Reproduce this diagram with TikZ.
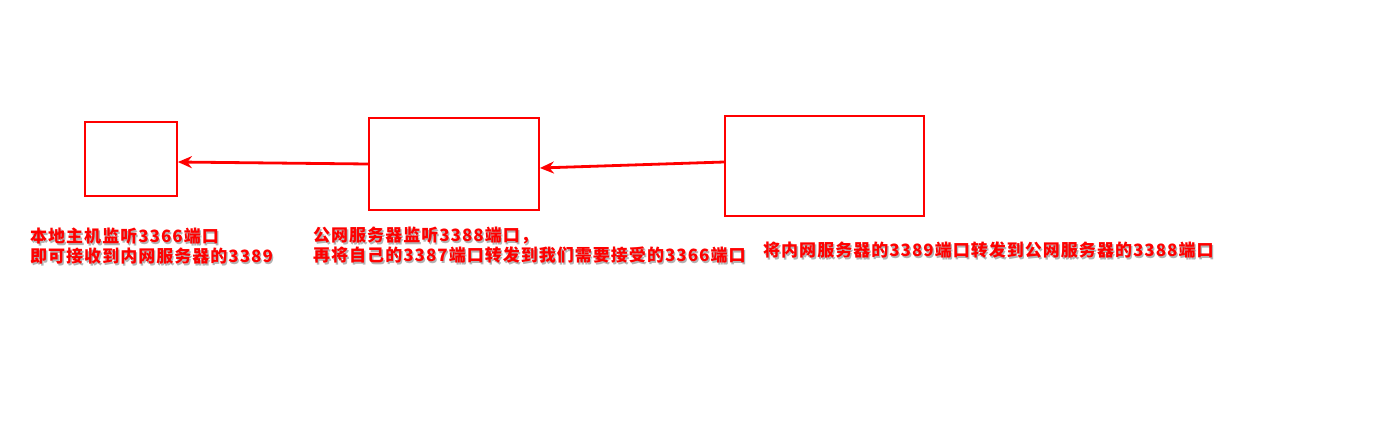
\documentclass[tikz,border=0pt]{standalone}
\usepackage{fontspec}
\newfontfamily\cjk{Noto Sans CJK SC}[LetterSpace=6]
\usetikzlibrary{arrows.meta}
\newcommand\shline[1]{\leavevmode\rlap{\hspace{1.3pt}\raisebox{-1.3pt}{\textcolor{black!30}{#1}}}\textcolor{red}{#1}}
\tikzset{
  box/.style={draw=red, line width=1.8pt, minimum width=#1, inner sep=0pt},
  arr/.style={draw=red, line width=2.8pt, -{Stealth[length=14pt,width=12pt]}},
  lbl/.style={anchor=west, align=left, inner sep=0pt, font=\cjk\bfseries\fontsize{17}{20}\selectfont}
}
\begin{document}
\begin{tikzpicture}[x=1pt,y=-1pt]
\useasboundingbox[fill=white] (0,0) rectangle (1388,434);
\node[box=92pt, minimum height=74pt] (A) at (131,159) {};
\node[box=170pt, minimum height=92pt] (B) at (454,164) {};
\node[box=199pt, minimum height=100pt] (C) at (824.5,166) {};
\draw[arr] (B.west) -- ([yshift=-3pt]A.east);
\draw[arr] ([yshift=4pt]C.west) -- ([yshift=-4pt]B.east);
\node[lbl] (L1) at (30,247) {\shline{本地主机监听3366端口}\\\shline{即可接收到内网服务器的3389}};
\node[lbl] (L2) at (313,246) {\shline{公网服务器监听3388端口，}\\\shline{再将自己的3387端口转发到我们需要接受的3366端口}};
\node[lbl] (L3) at (763,251) {\shline{将内网服务器的3389端口转发到公网服务器的3388端口}};
\end{tikzpicture}
\end{document}
